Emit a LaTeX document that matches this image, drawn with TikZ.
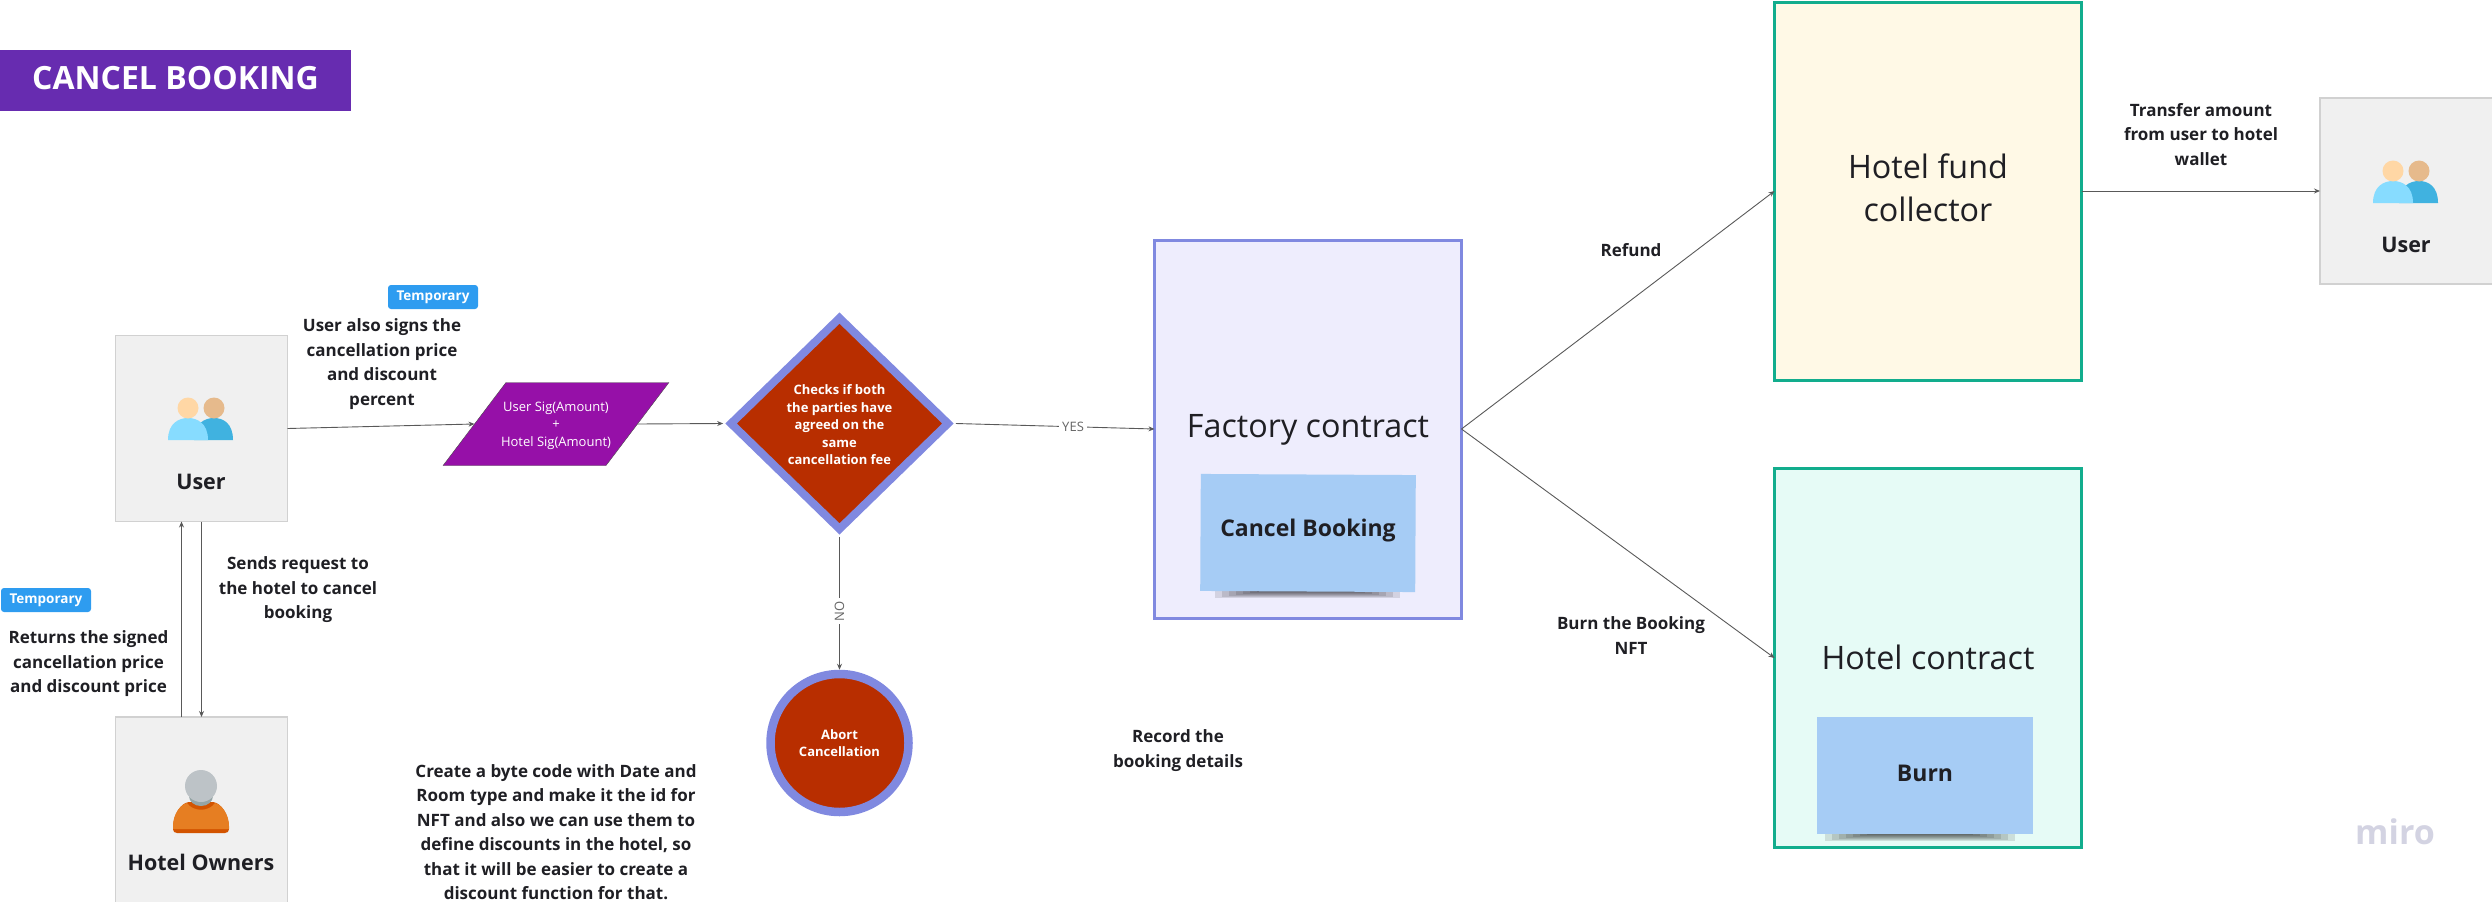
\documentclass[tikz,border=0pt]{standalone}
\usepackage{fontspec}
\setmainfont{Open Sans}
\usetikzlibrary{shapes.geometric, arrows.meta, positioning, calc}

\definecolor{titlepurple}{HTML}{672CB0}
\definecolor{tagblue}{HTML}{2E9CF0}
\definecolor{sigpurple}{HTML}{9610A8}
\definecolor{checkred}{HTML}{B82E00}
\definecolor{periwinkle}{HTML}{8089E0}
\definecolor{tealline}{HTML}{12AD8D}
\definecolor{stickyblue}{HTML}{A6CCF5}
\definecolor{inktext}{HTML}{1F1F24}
\definecolor{factoryfill}{HTML}{EEEDFD}
\definecolor{fundfill}{HTML}{FFF9E6}
\definecolor{hotelfill}{HTML}{E6FBF6}
\definecolor{logogrey}{HTML}{D3D3E2}

% soft shadow under a sticky note: left, right, top
\newcommand{\stickyshadow}[3]{
  \foreach \i in {0,...,6}
    \fill[black, opacity=0.11] (#1+\i*7,#3) rectangle (#2-\i*7,#3+8-\i);
}

\begin{document}
\begin{tikzpicture}[
      x=1pt, y=-1pt,
      >={Stealth[length=6pt, width=5pt]},
      every node/.style={inner sep=0pt, outer sep=0pt, text=inktext},
      link/.style={draw=black!65, line width=0.9pt},
      note/.style={align=center, font=\fontsize{17}{24.5}\selectfont\bfseries},
      actor/.style={rectangle, draw=black!18, line width=1.6pt, fill=black!6, minimum width=172pt},
      actorname/.style={font=\fontsize{21.5}{26}\selectfont\bfseries},
      contract/.style={rectangle, draw=tealline, line width=3pt, minimum width=307pt},
      contractname/.style={align=center, font=\fontsize{32.3}{43}\selectfont},
      sticky/.style={rectangle, fill=stickyblue, font=\fontsize{23}{28}\selectfont\bfseries},
      temp/.style={rectangle, rounded corners=3pt, fill=tagblue, minimum width=90pt, minimum height=24pt, text=white, font=\fontsize{13.5}{16}\selectfont\bfseries},
      flowtext/.style={align=center, text=white, font=\fontsize{13}{17.5}\selectfont\bfseries},
      steplabel/.style={fill=white, inner xsep=3pt, text=black!60, font=\fontsize{13}{16}\selectfont},
      twousers/.pic={
        \fill[fill={rgb,255:red,64;green,178;blue,224}] (-7,32) .. controls (-7,15) and (4,10) .. (13,10) .. controls (22,10) and (32,15) .. (32,32) -- cycle;
        \fill[fill={rgb,255:red,135;green,220;blue,255}] (-33,32) .. controls (-33,15) and (-22,10) .. (-13,10) .. controls (-4,10) and (7,15) .. (7,32) -- cycle;
        \fill[fill={rgb,255:red,255;green,215;blue,165}] (-13,0) circle[radius=10.5pt];
        \fill[fill={rgb,255:red,230;green,186;blue,140}] (13,0) circle[radius=10.5pt];
      },
      oneowner/.pic={
        \fill[fill={rgb,255:red,211;green,84;blue,0}] (-28,42) .. controls (-28,28) and (-20,17) .. (-12,16) -- (12,16) .. controls (20,17) and (28,28) .. (28,42) .. controls (28,46) and (26,47) .. (24,47) -- (-24,47) .. controls (-26,47) and (-28,46) .. (-28,42) -- cycle;
        \fill[fill={rgb,255:red,230;green,126;blue,34}] (-28,40) .. controls (-28,28) and (-20,18) .. (-14,17) .. controls (-8,26) and (8,26) .. (14,17) .. controls (20,18) and (28,28) .. (28,40) -- (28,43) -- (-28,43) -- cycle;
        \fill[fill={rgb,255:red,149;green,165;blue,166}] (0,10) ellipse[x radius=12pt, y radius=10pt];
        \fill[fill={rgb,255:red,189;green,195;blue,199}] (0,0) circle[radius=16pt];
      }
    ]
    \useasboundingbox (0,0) rectangle (2492,902);

    % Title
    \node[rectangle, fill=titlepurple, minimum width=351pt, minimum height=61pt, text depth=4pt, text=white, font=\fontsize{32}{38}\selectfont\bfseries] (title) at (175.5,80) {CANCEL BOOKING};

    % Users on the left
    \node[actor, minimum height=186pt] (user) at (201.5,428.5) {};
    \pic at (201,408) {twousers};
    \node[actorname] (username) at (201,482) {User};
    \node[actor, minimum height=204pt] (owner) at (201.5,819) {};
    \pic at (201,786) {oneowner};
    \node[actorname] (ownername) at (201,862) {Hotel Owners};

    % Signatures and the check
    \node[trapezium, trapezium left angle=57, trapezium right angle=123, trapezium stretches=true, draw=black!70, fill=sigpurple, minimum width=226pt, minimum height=83pt] (sig) at (556,424) {\phantom{H}};
    \node[align=center, text=white, font=\fontsize{13}{17.5}\selectfont] (sigtext) at (556,425.5) {User Sig(Amount)\\+\\Hotel Sig(Amount)};
    \node[diamond, draw=periwinkle, line width=8pt, fill=checkred, aspect=1, minimum width=221.5pt, minimum height=215.5pt, outer sep=5.6pt] (check) at (839.5,423.5) {};
    \node[flowtext] (checktext) at (839.5,425) {Checks if both\\the parties have\\agreed on the\\same\\cancellation fee};
    \node[circle, draw=periwinkle, line width=8.5pt, fill=checkred, minimum size=138pt, outer sep=4.25pt, flowtext] (abort) at (839.5,743) {Abort\\Cancellation};

    % Contracts
    \node[rectangle, draw=periwinkle, line width=3pt, fill=factoryfill, minimum width=307pt, minimum height=378pt] (factory) at (1308,429) {};
    \node[contractname] (factoryname) at (1308,430) {Factory contract};
    \stickyshadow{1215}{1400}{590}
    \node[sticky, rotate=-0.3, minimum width=215pt, minimum height=117pt] (cancelnote) at (1308,533) {};
    \node[sticky, fill=none] (canceltext) at (1308,531) {Cancel Booking};

    \node[contract, fill=fundfill, minimum height=378pt] (fund) at (1928,191) {};
    \node[contractname] (fundname) at (1928,188) {Hotel fund\\collector};
    \node[contract, fill=hotelfill, minimum height=379pt] (hotel) at (1928,658) {};
    \node[contractname] (hotelname) at (1928,657) {Hotel contract};
    \stickyshadow{1825}{2015}{833}
    \node[sticky, minimum width=216pt, minimum height=117pt] (burnnote) at (1925,775) {};
    \node[sticky, fill=none] (burntext) at (1925,773) {Burn};

    % User on the right
    \node[actor, minimum height=186pt, minimum width=180pt] (payee) at (2410,191) {};
    \pic at (2406,171) {twousers};
    \node[actorname] (payeename) at (2406,245) {User};

    % Connectors
    \draw[link, ->] (user.east) -- ($(sig.top left corner)!0.5!(sig.bottom left corner)$);
    \draw[link, ->] ($(sig.top right corner)!0.5!(sig.bottom right corner)$) -- (check.west);
    \draw[link, ->] (check.east) -- node[steplabel, pos=0.59] (yes) {YES} (factory.west);
    \draw[link, ->] (check.south) -- node[steplabel, pos=0.56, rotate=90] (no) {NO} (abort.north);
    \draw[link, ->] (user.south) -- (owner.north);
    \draw[link, ->] ($(owner.north)+(-20,0)$) -- ($(user.south)+(-20,0)$);
    \draw[link, ->] (factory.east) -- (fund.west);
    \draw[link, ->] (factory.east) -- (hotel.west);
    \draw[link, ->] (fund.east) -- (payee.west);

    % Tags and notes
    \node[temp] (tagone) at (433,297) {Temporary};
    \node[temp] (tagtwo) at (46,600) {Temporary};
    \node[note] (signs) at (382,364) {User also signs the\\cancellation price\\and discount\\percent};
    \node[note] (request) at (298,590) {Sends request to\\the hotel to cancel\\booking};
    \node[note] (returns) at (88.5,664) {Returns the signed\\cancellation price\\and discount price};
    \node[note] (bytecode) at (556,832) {Create a byte code with Date and\\Room type and make it the id for\\NFT and also we can use them to\\define discounts in the hotel, so\\that it will be easier to create a\\discount function for that.};
    \node[note] (record) at (1178,750.5) {Record the\\booking details};
    \node[note] (refund) at (1631,250) {Refund};
    \node[note] (burnnft) at (1631,635.5) {Burn the Booking\\NFT};
    \node[note] (transfer) at (2201,134.5) {Transfer amount\\from user to hotel\\wallet};

    % Logo
    \node[text=logogrey, font=\fontsize{34}{38}\selectfont\bfseries] (logo) at (2395,832) {miro};
  \end{tikzpicture}
\end{document}
